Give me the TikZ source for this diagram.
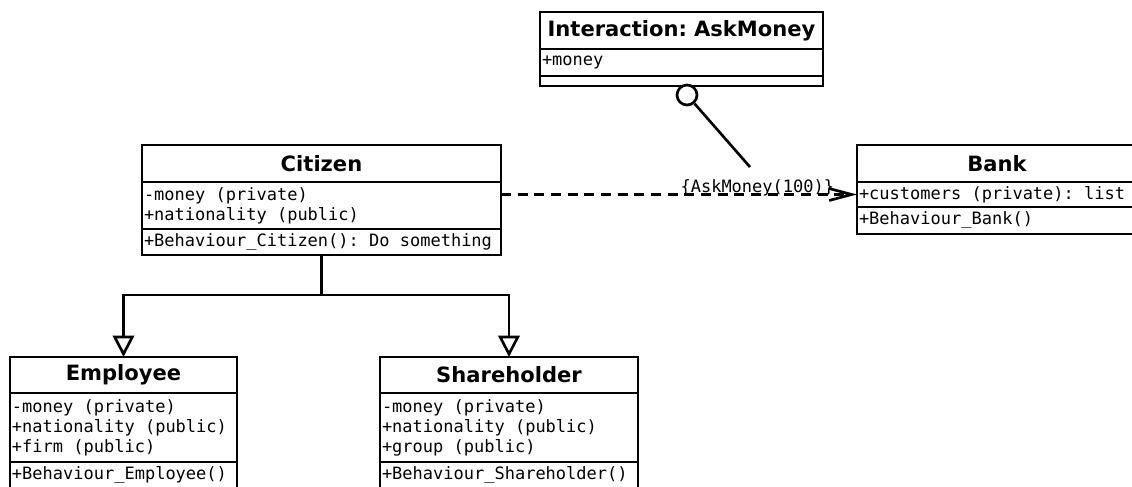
\documentclass[tikz,border=0pt]{standalone}
\usepackage{fontspec}
\setmainfont{DejaVu Sans}
\newfontfamily\umlmono{DejaVu Sans Mono}
\newcommand\umltxt{\umlmono\fontsize{12.75}{15}\selectfont}
\usetikzlibrary{positioning,arrows.meta}

\begin{document}
\frenchspacing
\begin{tikzpicture}[x=0.75pt,y=-0.75pt,
	umlname/.style={draw,line width=2pt,outer sep=0pt,inner xsep=1.5pt,inner ysep=0pt,
		anchor=north west,align=center,text width=#1,minimum height=27.75pt,
		font=\bfseries\fontsize{15.8}{18}\selectfont},
	umlpart/.style={draw,line width=2pt,outer sep=0pt,inner xsep=1.5pt,inner ysep=0pt,
		align=flush left,text width=#1,font=\umltxt,
		execute at begin node={\spaceskip=0.602em\xspaceskip=0.602em\relax}},
	umlline/.style={draw=black,line width=2pt}]
	\useasboundingbox (0,0) rectangle (1132,486);
	\clip (0,0) rectangle (1132,486);

	\begin{scope}
		\node[umlname=209.25pt] (ask) at (540,12) {Interaction: AskMoney};
		\node[umlpart=209.25pt,minimum height=20.25pt,below=0pt of ask] (askA) {+money};
		\node[umlpart=209.25pt,minimum height=7.5pt,below=0pt of askA] (askM) {};

		\node[umlname=266.25pt] (cit) at (142,145) {Citizen};
		\node[umlpart=266.25pt,minimum height=35.25pt,below=0pt of cit] (citA) {-money (private)\\+nationality (public)};
		\node[umlpart=266.25pt,minimum height=19.5pt,below=0pt of citA] (citM) {+Behaviour\_Citizen(): Do something};

		\node[umlname=207pt] (bank) at (857,145) {Bank};
		\node[umlpart=207pt,minimum height=18.75pt,below=0pt of bank] (bankA) {+customers (private): list};
		\node[umlpart=207pt,minimum height=20.25pt,below=0pt of bankA] (bankM) {+Behaviour\_Bank()};

		\node[umlname=167.25pt,minimum height=27pt] (emp) at (10,357) {Employee};
		\node[umlpart=167.25pt,minimum height=51.75pt,below=0pt of emp] (empA) {-money (private)\\+nationality (public)\\+firm (public)};
		\node[umlpart=167.25pt,minimum height=19.5pt,below=0pt of empA] (empM) {+Behaviour\_Employee()};

		\node[umlname=190.5pt,minimum height=27pt] (share) at (380,357) {Shareholder};
		\node[umlpart=190.5pt,minimum height=51.75pt,below=0pt of share] (shareA) {-money (private)\\+nationality (public)\\+group (public)};
		\node[umlpart=190.5pt,minimum height=19.5pt,below=0pt of shareA] (shareM) {+Behaviour\_Shareholder()};
	\end{scope}

	\begin{scope}[every path/.style={umlline}]
		\draw[-{Triangle[open,length=16pt,width=16pt]}] (citM.south) -- ++(0,40) -| (emp.north);
		\draw[-{Triangle[open,length=16pt,width=16pt]}] (citM.south) -- ++(0,40) -| (share.north);
		\draw[dash pattern=on 7.5pt off 5pt,-{Straight Barb[length=17pt,width=9pt]}] (citA.east |- bankA.west)
			-- node[pos=0.72,above,inner sep=0pt,yshift=-2pt,font=\umltxt] (msg) {\{AskMoney(100)\}} (bankA.west);
		\node[circle,draw,fill=white,line width=2pt,minimum size=15pt,inner sep=0pt] (ball) at (687,95) {};
		\coordinate (iface) at (750,167);
		\draw (ball) -- (iface);
	\end{scope}
\end{tikzpicture}
\end{document}
